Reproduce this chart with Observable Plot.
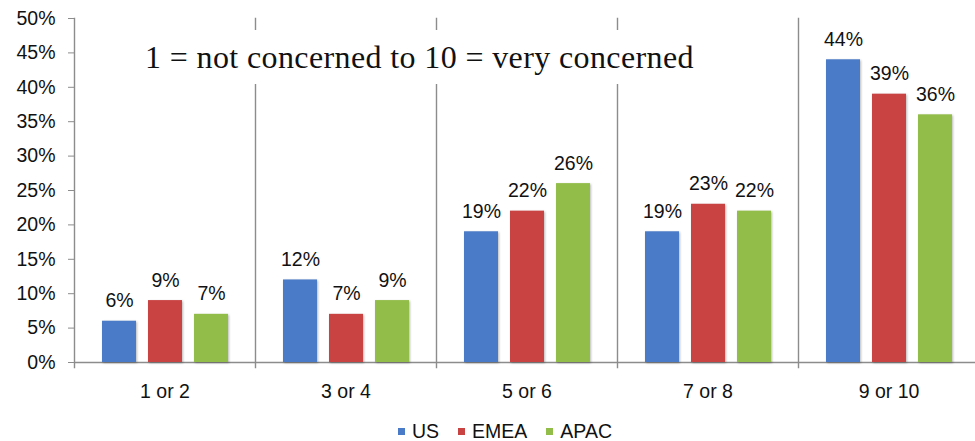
<!DOCTYPE html>
<html>
<head>
<meta charset="utf-8">
<script src="https://cdn.jsdelivr.net/npm/d3@7"></script>
<script src="https://cdn.jsdelivr.net/npm/@observablehq/plot@0.6"></script>
<style>
  html, body { margin: 0; padding: 0; background: #fff; overflow: hidden; }
  #chart { position: relative; width: 975px; height: 441px; overflow: hidden; }
  #chart svg { display: block; }
  .note {
    position: absolute; left: 140px; top: 30px; height: 54px; line-height: 54px;
    padding: 0 8px 0 5px; background: #fff; white-space: nowrap;
    font-family: "Liberation Serif", "Times New Roman", serif; font-size: 32px;
    letter-spacing: 0.38px; color: #111;
  }
  .legend {
    display: flex; justify-content: center; align-items: center; gap: 19px;
    width: 975px; padding-left: 35px; padding-top: 12px; box-sizing: border-box;
    line-height: 18px;
    font-family: "Liberation Sans", Arial, sans-serif; font-size: 19.5px; color: #111;
  }
  .legend .item { display: flex; align-items: center; gap: 7px; }
  .legend .sw { width: 7px; height: 7px; display: inline-block; }
</style>
</head>
<body>
<div id="chart"></div>
<script>
// Concern level buckets and the share of respondents per region
const groups = ["1 or 2", "3 or 4", "5 or 6", "7 or 8", "9 or 10"];
const regions = ["US", "EMEA", "APAC"];
const us = [6, 12, 19, 19, 44];
const emea = [9, 7, 22, 23, 39];
const apac = [7, 9, 26, 22, 36];
const colors = ["#4a7bc8", "#c94343", "#92bd48"];
const yTicks = [0, 5, 10, 15, 20, 25, 30, 35, 40, 45, 50];
const note = "1 = not concerned to 10 = very concerned";

const series = [us, emea, apac];
const rows = groups.flatMap((g, i) =>
  regions.map((r, j) => ({group: g, region: r, value: series[j][i]}))
);

const grid = "#8c8c8c";

const plot = Plot.plot({
  width: 975,
  height: 410,
  marginLeft: 72,
  marginRight: -5,
  marginTop: 18,
  marginBottom: 48,
  style: {
    fontFamily: "'Liberation Sans', Arial, sans-serif",
    fontSize: "19.5px",
    color: "#111",
    background: "transparent"
  },
  fx: {domain: groups, padding: 0, label: null},
  x: {domain: regions, paddingInner: 0.27, paddingOuter: 0.59, axis: null},
  y: {domain: [0, 50]},
  color: {domain: regions, range: colors},
  marks: [
    // group separators (the first one doubles as the y axis line)
    Plot.frame({anchor: "left", stroke: grid, strokeWidth: 1.4, insetBottom: -5}),
    Plot.ruleY([0], {stroke: grid, strokeWidth: 1.4}),
    Plot.barY(rows, {
      fx: "group", x: "region", y: "value", fill: "region",
      imageFilter: "drop-shadow(1.5px 1px 1.2px rgba(0,0,0,0.28))"
    }),
    Plot.text(rows, {
      fx: "group", x: "region", y: "value",
      text: d => `${d.value}%`,
      lineAnchor: "bottom", dy: -14, fill: "#111"
    }),
    Plot.axisY({
      ticks: yTicks, tickFormat: d => `${d}%`,
      tickSize: 6, tickPadding: 13, stroke: grid, label: null
    }),
    Plot.axisFx({anchor: "bottom", tickSize: 0, tickPadding: 22, label: null})
  ]
});

const chart = document.getElementById("chart");
chart.appendChild(plot);

const noteDiv = document.createElement("div");
noteDiv.className = "note";
noteDiv.textContent = note;
chart.appendChild(noteDiv);

const legend = document.createElement("div");
legend.className = "legend";
regions.forEach((r, i) => {
  const item = document.createElement("span");
  item.className = "item";
  const sw = document.createElement("span");
  sw.className = "sw";
  sw.style.background = colors[i];
  const label = document.createElement("span");
  label.textContent = r;
  item.append(sw, label);
  legend.appendChild(item);
});
chart.appendChild(legend);
</script>
</body>
</html>
